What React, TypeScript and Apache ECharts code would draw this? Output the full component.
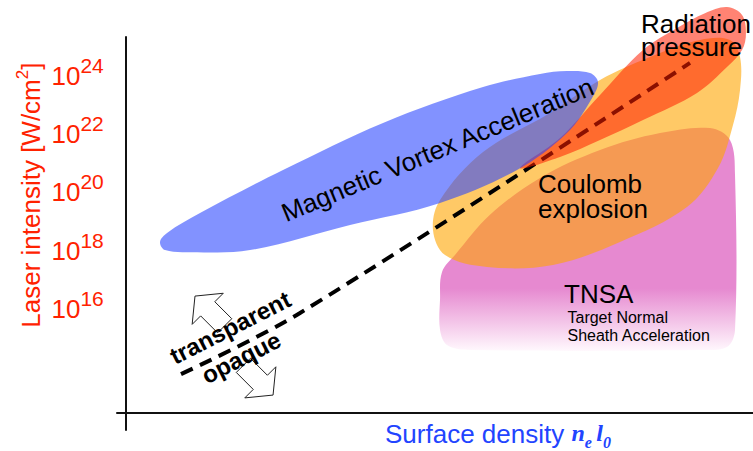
import React, { useEffect, useRef } from 'react';
import * as echarts from 'echarts';

// Axis: x = surface density (arb. units), y = log10 of laser intensity [W/cm^2]
const yTickExponents = [16, 18, 20, 22, 24];
const yAxisTitleParts = ['Laser intensity [W/cm', '2', ']'];
const xAxisTitleParts = ['Surface density ', 'n', 'e', 'l', '0'];

// Region outlines [surface density, log10 intensity]
const tnsaRegion = [
  [50.08, 16.17], [50.4, 17.13], [52.47, 17.71], [58.05, 19.09], [66.03, 20.36],
  [75.6, 21.32], [85.17, 21.9], [93.14, 22.07], [96.33, 21.66], [97.13, 20.46],
  [97.13, 15.14], [95.85, 14.55], [91.55, 14.45], [54.86, 14.45], [51.19, 14.62],
  [50.08, 15.14],
];
const coulombRegion = [
  [48.96, 18.57], [50.08, 19.6], [56.94, 21.25], [67.62, 22.59], [75.6, 23.72],
  [83.57, 24.51], [91.55, 25.1], [96.33, 25.1], [97.93, 24.51], [97.93, 23.38],
  [96.81, 22.18], [94.42, 20.7], [89.47, 19.36], [78.79, 18.16], [68.1, 17.37],
  [57.58, 17.3], [50.88, 17.71],
];
const radiationRegion = [
  [62.84, 20.7], [69.22, 21.73], [75.6, 23.21], [82.46, 24.75], [87.88, 25.51],
  [92.34, 26.02], [95.85, 26.23], [98.25, 25.96], [98.88, 25.34], [98.25, 24.75],
  [95.85, 24.17], [91.07, 23.28], [82.46, 22.35], [75.6, 21.66], [69.22, 21.08],
];
const mvaRegion = [
  [5.42, 18.16], [6.54, 18.47], [11.8, 19.15], [25.04, 20.63], [40.99, 22.25],
  [56.94, 23.48], [66.03, 23.93], [70.33, 24.03], [74.0, 23.96], [75.28, 23.65],
  [74.32, 23.1], [70.33, 21.9], [62.36, 20.63], [50.08, 19.5], [35.73, 18.74],
  [19.78, 17.88], [10.21, 17.81], [6.22, 17.88],
];
const boundaryLine = [[8.77, 13.62], [27.75, 15.72], [89.95, 24.31]];
const arrowTips = [[11.0, 16.3], [23.45, 12.9]];
const arrowDirections = [1, -1];

const regionLabels = [
  'Magnetic Vortex Acceleration',
  'Coulomb\nexplosion',
  'Radiation\npressure',
  'TNSA',
  'Target Normal\nSheath Acceleration',
  'transparent',
  'opaque',
];
const labelAnchors = [
  [49.68, 21.33], [65.71, 19.72], [82.14, 25.25], [69.86, 16.37],
  [70.41, 15.26], [16.6, 15.22], [18.34, 14.19],
];

const FONT = 'Liberation Sans, Arial, sans-serif';
const SERIF = 'Liberation Serif, DejaVu Serif, serif';
const RED = '#ff2200';
const BLUE = '#2244ff';

const labelStyles = [
  { size: 26, weight: 'normal', align: 'center', rot: 22.6, lh: 26 },
  { size: 26, weight: 'normal', align: 'left', rot: 0, lh: 25 },
  { size: 26, weight: 'normal', align: 'left', rot: 0, lh: 23 },
  { size: 26, weight: 'normal', align: 'left', rot: 0, lh: 26 },
  { size: 16, weight: 'normal', align: 'left', rot: 0, lh: 18 },
  { size: 24, weight: 'bold', align: 'center', rot: 27, lh: 24 },
  { size: 24, weight: 'bold', align: 'center', rot: 27, lh: 24 },
];

function regionSeries(points: number[][], style: any, z: number) {
  return {
    type: 'custom',
    coordinateSystem: 'cartesian2d',
    z,
    silent: true,
    data: points,
    renderItem: (params: any, api: any) => {
      if (params.dataIndex !== 0) return null;
      return {
        type: 'polygon',
        shape: { points: points.map((p) => api.coord(p)), smooth: 0.35 },
        style,
      };
    },
  };
}

export default function App() {
  const ref = useRef<HTMLDivElement>(null);
  useEffect(() => {
    if (!ref.current) return;
    const chart = echarts.init(ref.current, null, { renderer: 'svg' });
    const pinkFill = new echarts.graphic.LinearGradient(0, 0, 0, 1, [
      { offset: 0, color: 'rgb(230,137,208)' },
      { offset: 0.72, color: 'rgb(230,137,208)' },
      { offset: 1, color: 'rgb(255,248,253)' },
    ]);
    const option: any = {
      animation: false,
      backgroundColor: '#ffffff',
      grid: { left: 117, right: 0, top: 37, bottom: 21, containLabel: false },
      xAxis: {
        type: 'value',
        min: -1.44,
        max: 100,
        offset: -17,
        axisLine: { show: true, onZero: false, lineStyle: { color: '#111', width: 2 } },
        axisTick: { show: false },
        axisLabel: { show: false },
        splitLine: { show: false },
      },
      yAxis: {
        type: 'value',
        min: 11.7,
        max: 25.2,
        offset: -9,
        axisLine: { show: true, onZero: false, lineStyle: { color: '#111', width: 2 } },
        axisTick: { show: false },
        splitLine: { show: false },
        axisLabel: {
          show: true,
          customValues: yTickExponents,
          margin: 22,
          formatter: (v: number) => `{b|10}{s|${v}}{p| }`,
          rich: {
            b: { fontSize: 26, lineHeight: 26, verticalAlign: 'bottom', color: RED, fontFamily: FONT },
            s: { fontSize: 21, lineHeight: 21, verticalAlign: 'top', color: RED, fontFamily: FONT },
            p: { fontSize: 1, lineHeight: 34, color: RED },
          },
        },
      },
      graphic: [
        {
          type: 'text',
          x: 29,
          y: 195,
          rotation: Math.PI / 2,
          silent: true,
          style: {
            text: `{m|${yAxisTitleParts[0]}}{s|${yAxisTitleParts[1]}}{m|${yAxisTitleParts[2]}}{p| }`,
            align: 'center',
            verticalAlign: 'middle',
            rich: {
              m: { fontSize: 26, lineHeight: 26, verticalAlign: 'bottom', fill: RED, fontFamily: FONT },
              s: { fontSize: 17, lineHeight: 17, verticalAlign: 'top', fill: RED, fontFamily: FONT },
              p: { fontSize: 1, lineHeight: 30, fill: RED },
            },
          },
        },
        {
          type: 'text',
          x: 385,
          y: 435.5,
          silent: true,
          style: {
            text: `{m|${xAxisTitleParts[0]}}{i|${xAxisTitleParts[1]}}{sub|${xAxisTitleParts[2]}}{sp| }{i|${xAxisTitleParts[3]}}{sub|${xAxisTitleParts[4]}}{p| }`,
            align: 'left',
            verticalAlign: 'middle',
            rich: {
              m: { fontSize: 26, lineHeight: 26, verticalAlign: 'top', fill: BLUE, fontFamily: FONT },
              sp: { fontSize: 16, lineHeight: 16, verticalAlign: 'top', fill: BLUE, fontFamily: FONT },
              i: {
                fontSize: 24, lineHeight: 26, verticalAlign: 'top', fill: BLUE,
                fontFamily: SERIF, fontWeight: 'bold', fontStyle: 'italic',
              },
              sub: {
                fontSize: 16, lineHeight: 16, verticalAlign: 'bottom', fill: BLUE,
                fontFamily: SERIF, fontWeight: 'bold', fontStyle: 'italic',
              },
              p: { fontSize: 1, lineHeight: 29, fill: BLUE },
            },
          },
        },
      ],
      series: [
        regionSeries(tnsaRegion, { fill: pinkFill }, 1),
        regionSeries(coulombRegion, { fill: 'rgba(255,165,0,0.6)' }, 2),
        {
          type: 'line',
          z: 3,
          silent: true,
          data: boundaryLine,
          symbol: 'none',
          smooth: 0.35,
          lineStyle: { color: '#000', width: 4, type: [13, 8] },
        },
        regionSeries(radiationRegion, { fill: 'rgba(255,30,0,0.55)' }, 4),
        regionSeries(mvaRegion, { fill: 'rgba(40,68,255,0.58)' }, 5),
        {
          type: 'custom',
          coordinateSystem: 'cartesian2d',
          z: 6,
          silent: true,
          data: arrowTips,
          renderItem: (params: any, api: any) => {
            const i = params.dataIndex;
            const [tx, ty] = api.coord(arrowTips[i]);
            const a = (45 * Math.PI) / 180;
            const s = arrowDirections[i];
            const dx = -Math.sin(a) * s;
            const dy = -Math.cos(a) * s;
            const nx = Math.cos(a);
            const ny = -Math.sin(a);
            const headLen = 18, headHalf = 22, shaftHalf = 10, total = 42;
            const bx = tx - dx * headLen, by = ty - dy * headLen;
            const ex = tx - dx * total, ey = ty - dy * total;
            const pts = [
              [tx, ty],
              [bx + nx * headHalf, by + ny * headHalf],
              [bx + nx * shaftHalf, by + ny * shaftHalf],
              [ex + nx * shaftHalf, ey + ny * shaftHalf],
              [ex - nx * shaftHalf, ey - ny * shaftHalf],
              [bx - nx * shaftHalf, by - ny * shaftHalf],
              [bx - nx * headHalf, by - ny * headHalf],
            ];
            return {
              type: 'polygon',
              shape: { points: pts },
              style: { fill: '#fff', stroke: '#222', lineWidth: 1 },
            };
          },
        },
        {
          type: 'custom',
          coordinateSystem: 'cartesian2d',
          z: 7,
          silent: true,
          data: labelAnchors,
          renderItem: (params: any, api: any) => {
            const i = params.dataIndex;
            const [px, py] = api.coord(labelAnchors[i]);
            const st = labelStyles[i];
            return {
              type: 'text',
              x: px,
              y: py,
              rotation: (st.rot * Math.PI) / 180,
              style: {
                text: regionLabels[i],
                fontSize: st.size,
                fontWeight: st.weight,
                fontFamily: FONT,
                fill: '#000',
                align: st.align,
                verticalAlign: 'middle',
                lineHeight: st.lh,
              },
            };
          },
        },
      ],
    };
    chart.setOption(option);
    return () => chart.dispose();
  }, []);
  return (
    <div
      ref={ref}
      style={{ position: 'fixed', left: 0, top: 0, width: 753, height: 451, background: '#fff' }}
    />
  );
}
